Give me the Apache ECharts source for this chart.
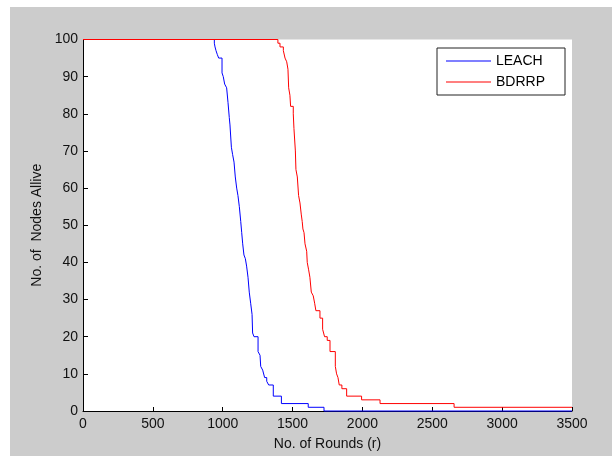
<!DOCTYPE html>
<html>
<head>
<meta charset="utf-8">
<script src="https://cdn.jsdelivr.net/npm/echarts@6/dist/echarts.min.js"></script>
<style>
  html, body { margin: 0; padding: 0; background: #ffffff; width: 612px; height: 456px; overflow: hidden; }
  #chart { position: absolute; left: 10px; top: 7px; width: 602px; height: 449px; }
</style>
</head>
<body>
<div id="chart"></div>
<script>
// LEACH: round at which alive count changes, and alive count from that round on
const leachRounds = [0, 940, 945, 952, 961, 971, 985, 995, 1004, 1014, 1028, 1038, 1047, 1052, 1062, 1071, 1081, 1090, 1100, 1109, 1119, 1129, 1136, 1143, 1152, 1162, 1171, 1181, 1190, 1200, 1210, 1214, 1224, 1253, 1267, 1272, 1286, 1300, 1315, 1329, 1362, 1420, 1612, 1725, 3500];
const leachAlive  = [100, 99, 98, 97, 96, 95, 95, 91, 90, 88, 87, 83, 79, 77, 71, 69, 67, 63, 60, 58, 55, 51, 48, 45, 42, 41, 39, 36, 32, 29, 26, 21, 20, 16, 15, 12, 11, 9, 8, 7, 4, 2, 1, 0, 0];
// BDRRP
const bdrrpRounds = [0, 1395, 1410, 1434, 1446, 1458, 1467, 1472, 1481, 1486, 1505, 1510, 1520, 1524, 1534, 1543, 1553, 1562, 1569, 1574, 1582, 1589, 1601, 1605, 1615, 1624, 1634, 1648, 1658, 1667, 1696, 1715, 1729, 1748, 1768, 1806, 1815, 1825, 1834, 1853, 1887, 1994, 2126, 2656, 3500];
const bdrrpAlive  = [100, 99, 98, 97, 95, 94, 92, 87, 85, 82, 80, 76, 70, 65, 63, 58, 56, 53, 51, 49, 48, 45, 43, 40, 38, 36, 32, 31, 29, 27, 25, 22, 20, 19, 16, 12, 10, 9, 7, 6, 4, 3, 2, 1, 1];

const seriesNames = ['LEACH', 'BDRRP'];
const xTitle = 'No. of Rounds (r)';
const yTitle = 'No. of  Nodes Allive';

function zip(a, b) { return a.map((v, i) => [v, b[i]]); }

const chart = echarts.init(document.getElementById('chart'), null, { renderer: 'canvas' });
const font = 'Liberation Sans, Arial, sans-serif';

chart.setOption({
  animation: false,
  backgroundColor: '#cccccc',
  textStyle: { fontFamily: font },
  grid: { left: 73, top: 32.5, right: 40, bottom: 43.5, show: true, backgroundColor: '#ffffff', borderWidth: 0, containLabel: false },
  legend: {
    orient: 'vertical',
    left: 427, top: 41,
    backgroundColor: '#ffffff',
    borderColor: '#222222', borderWidth: 1, borderRadius: 0,
    padding: [6, 20, 6, 9],
    itemGap: 7,
    icon: 'rect',
    itemWidth: 45, itemHeight: 1,
    textStyle: { fontFamily: font, fontSize: 14, color: '#000000' },
    data: seriesNames
  },
  xAxis: {
    type: 'value', min: 0, max: 3500, interval: 500,
    name: xTitle, nameLocation: 'middle', nameGap: 26,
    nameTextStyle: { fontFamily: font, fontSize: 14, color: '#111111' },
    axisLine: { show: true, onZero: false, lineStyle: { color: '#000000', width: 1 } },
    axisTick: { show: true, inside: true, length: 4, lineStyle: { color: '#000000' } },
    axisLabel: { fontFamily: font, fontSize: 14, color: '#111111', margin: 6, formatter: v => String(v) },
    splitLine: { show: false }
  },
  yAxis: {
    type: 'value', min: 0, max: 100, interval: 10,
    name: yTitle, nameLocation: 'middle', nameGap: 39, nameRotate: 90,
    nameTextStyle: { fontFamily: font, fontSize: 14, color: '#111111' },
    axisLine: { show: true, onZero: false, lineStyle: { color: '#000000', width: 1 } },
    axisTick: { show: true, inside: true, length: 5, lineStyle: { color: '#000000' } },
    axisLabel: { fontFamily: font, fontSize: 14, color: '#111111', margin: 5, formatter: v => String(v) },
    splitLine: { show: false }
  },
  series: [
    { name: seriesNames[0], type: 'line', step: 'end', symbol: 'none', clip: false, z: 2,
      lineStyle: { color: '#0000ff', width: 1 }, itemStyle: { color: '#0000ff' },
      data: zip(leachRounds, leachAlive) },
    { name: seriesNames[1], type: 'line', step: 'end', symbol: 'none', clip: false, z: 3,
      lineStyle: { color: '#ff0000', width: 1 }, itemStyle: { color: '#ff0000' },
      data: zip(bdrrpRounds, bdrrpAlive) }
  ]
});
</script>
</body>
</html>
